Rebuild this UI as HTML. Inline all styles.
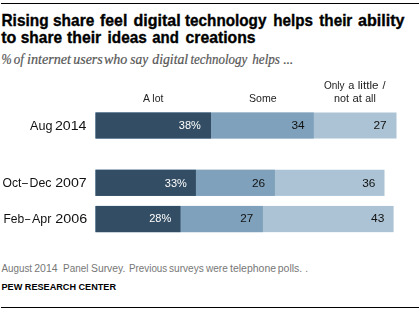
<!DOCTYPE html>
<html><head><meta charset="utf-8">
<style>
html,body{margin:0;padding:0;background:#fff;width:420px;height:310px;overflow:hidden}
svg{display:block}
.t{font-family:"Liberation Sans",sans-serif;font-weight:700;font-size:16.5px;fill:#000;stroke:#000;stroke-width:0.35px}
.sub{font-family:"Liberation Serif",serif;font-style:italic;font-size:14px;fill:#555;stroke:#555;stroke-width:0.2px}
.hd{font-family:"Liberation Sans",sans-serif;font-size:11px;fill:#222}
.rl{font-family:"Liberation Sans",sans-serif;font-size:13.5px;fill:#111}
.vw{font-family:"Liberation Sans",sans-serif;font-size:11px;fill:#fff}
.vd{font-family:"Liberation Sans",sans-serif;font-size:11px;fill:#111}
.ft{font-family:"Liberation Sans",sans-serif;font-size:10px;fill:#777}
.pw{font-family:"Liberation Sans",sans-serif;font-size:9.5px;font-weight:700;fill:#000}
</style></head>
<body>
<svg width="420" height="310" viewBox="0 0 420 310">
<filter id="ga" x="0" y="0" width="420" height="310" filterUnits="userSpaceOnUse"><feColorMatrix type="identity"/></filter>
<rect x="1" y="3" width="418" height="1" fill="#000"/>
<g class="t"><text x="1.5" y="25.5" textLength="47.04" lengthAdjust="spacingAndGlyphs">Rising</text><text x="53.0" y="25.5" textLength="41.25" lengthAdjust="spacingAndGlyphs">share</text><text x="100.0" y="25.5" textLength="27.28" lengthAdjust="spacingAndGlyphs">feel</text><text x="133.5" y="25.5" textLength="47.21" lengthAdjust="spacingAndGlyphs">digital</text><text x="185.0" y="25.5" textLength="81.44" lengthAdjust="spacingAndGlyphs">technology</text><text x="273.25" y="25.5" textLength="39.7" lengthAdjust="spacingAndGlyphs">helps</text><text x="319.25" y="25.5" textLength="33.07" lengthAdjust="spacingAndGlyphs">their</text><text x="358.0" y="25.5" textLength="46.48" lengthAdjust="spacingAndGlyphs">ability</text>
<text x="1.25" y="42.8" textLength="15.11" lengthAdjust="spacingAndGlyphs">to</text><text x="20.75" y="42.8" textLength="41.25" lengthAdjust="spacingAndGlyphs">share</text><text x="67.0" y="42.8" textLength="34.17" lengthAdjust="spacingAndGlyphs">their</text><text x="107.5" y="42.8" textLength="39.22" lengthAdjust="spacingAndGlyphs">ideas</text><text x="152.25" y="42.8" textLength="26.6" lengthAdjust="spacingAndGlyphs">and</text><text x="185.5" y="42.8" textLength="70.04" lengthAdjust="spacingAndGlyphs">creations</text></g>
<g class="sub"><text x="1.5" y="63.7" textLength="10.22" lengthAdjust="spacingAndGlyphs">%</text><text x="13.75" y="63.7" textLength="10.09" lengthAdjust="spacingAndGlyphs">of</text><text x="27.0" y="63.7" textLength="43.95" lengthAdjust="spacingAndGlyphs">internet</text><text x="73.25" y="63.7" textLength="29.41" lengthAdjust="spacingAndGlyphs">users</text><text x="104.0" y="63.7" textLength="23.34" lengthAdjust="spacingAndGlyphs">who</text><text x="130.25" y="63.7" textLength="17.82" lengthAdjust="spacingAndGlyphs">say</text><text x="152.25" y="63.7" textLength="35.91" lengthAdjust="spacingAndGlyphs">digital</text><text x="190.5" y="63.7" textLength="56.77" lengthAdjust="spacingAndGlyphs">technology</text><text x="252.25" y="63.7" textLength="27.71" lengthAdjust="spacingAndGlyphs">helps</text><text x="283.25" y="63.7" textLength="10.0">...</text></g>

<g class="hd" filter="url(#ga)"><text x="324.0" y="89.3" textLength="20.62" lengthAdjust="spacingAndGlyphs">Only</text><text x="348.3" y="89.3">a</text><text x="357.75" y="89.3" textLength="20.76" lengthAdjust="spacingAndGlyphs">little</text><text x="382.6" y="89.3">/</text>
<text x="334.0" y="101.7" textLength="15.0" lengthAdjust="spacingAndGlyphs">not</text><text x="352.5" y="101.7" textLength="9.44" lengthAdjust="spacingAndGlyphs">at</text><text x="365.25" y="101.7" textLength="10.57" lengthAdjust="spacingAndGlyphs">all</text><text x="143.0" y="101.7" textLength="20.36" lengthAdjust="spacingAndGlyphs">A lot</text><text x="249.0" y="101.7" textLength="27.65" lengthAdjust="spacingAndGlyphs">Some</text></g>

<g class="rl" filter="url(#ga)"><text x="30.0" y="129.7" textLength="22.38" lengthAdjust="spacingAndGlyphs">Aug</text><text x="55.0" y="129.7" textLength="31.5" lengthAdjust="spacingAndGlyphs">2014</text>
<text x="2.5" y="187.1" textLength="18.87" lengthAdjust="spacingAndGlyphs">Oct</text><text x="22.0" y="187.1" textLength="5.87" lengthAdjust="spacingAndGlyphs">–</text><text x="29.5" y="187.1" textLength="21.97" lengthAdjust="spacingAndGlyphs">Dec</text><text x="55.25" y="187.1" textLength="31.5" lengthAdjust="spacingAndGlyphs">2007</text>
<text x="3.5" y="222.8" textLength="20.77" lengthAdjust="spacingAndGlyphs">Feb</text><text x="25.0" y="222.8" textLength="5.27" lengthAdjust="spacingAndGlyphs">–</text><text x="32.0" y="222.8" textLength="19.42" lengthAdjust="spacingAndGlyphs">Apr</text><text x="55.25" y="222.8" textLength="31.9" lengthAdjust="spacingAndGlyphs">2006</text></g>

<g>
<rect x="95.5" y="112.5" width="301.00" height="26" fill="#abc3d4"/>
<rect x="95.5" y="112.5" width="218.30" height="26" fill="#7fa1bb"/>
<rect x="95.5" y="112.5" width="115.50" height="26" fill="#334d64"/>
<rect x="95.5" y="169.75" width="289.00" height="26.15" fill="#abc3d4"/>
<rect x="95.5" y="169.75" width="179.40" height="26.15" fill="#7fa1bb"/>
<rect x="95.5" y="169.75" width="100.40" height="26.15" fill="#334d64"/>
<rect x="95.5" y="205.95" width="298.10" height="26.2" fill="#abc3d4"/>
<rect x="95.5" y="205.95" width="167.40" height="26.2" fill="#7fa1bb"/>
<rect x="95.5" y="205.95" width="85.00" height="26.2" fill="#334d64"/>
</g>

<g filter="url(#ga)"><text class="vw" x="200.8" y="129" text-anchor="end">38%</text>
<text class="vd" x="304.6" y="129" text-anchor="end" textLength="13.2" lengthAdjust="spacingAndGlyphs">34</text>
<text class="vd" x="386.7" y="129" text-anchor="end" textLength="13.2" lengthAdjust="spacingAndGlyphs">27</text>
<text class="vw" x="186.8" y="186.9" text-anchor="end">33%</text>
<text class="vd" x="265.2" y="186.9" text-anchor="end" textLength="13.2" lengthAdjust="spacingAndGlyphs">26</text>
<text class="vd" x="375.4" y="186.9" text-anchor="end" textLength="13.2" lengthAdjust="spacingAndGlyphs">36</text>
<text class="vw" x="171.2" y="222.3" text-anchor="end">28%</text>
<text class="vd" x="253.2" y="222.3" text-anchor="end" textLength="13" lengthAdjust="spacingAndGlyphs">27</text>
<text class="vd" x="384.3" y="222.3" text-anchor="end" textLength="13.3" lengthAdjust="spacingAndGlyphs">43</text></g>

<g class="ft"><text x="1.5" y="271.8" textLength="30.54" lengthAdjust="spacingAndGlyphs">August</text><text x="34.25" y="271.8" textLength="23.3" lengthAdjust="spacingAndGlyphs">2014</text><text x="63.0" y="271.8" textLength="25.43" lengthAdjust="spacingAndGlyphs">Panel</text><text x="91.0" y="271.8" textLength="34.37" lengthAdjust="spacingAndGlyphs">Survey.</text><text x="129.0" y="271.8" textLength="38.26" lengthAdjust="spacingAndGlyphs">Previous</text><text x="169.0" y="271.8" textLength="34.8" lengthAdjust="spacingAndGlyphs">surveys</text><text x="206.0" y="271.8" textLength="21.84" lengthAdjust="spacingAndGlyphs">were</text><text x="230.0" y="271.8" textLength="46.04" lengthAdjust="spacingAndGlyphs">telephone</text><text x="277.75" y="271.8" textLength="24.51" lengthAdjust="spacingAndGlyphs">polls.</text><text x="305.2" y="271.8">.</text></g>
<text class="pw" x="1.5" y="289.7" textLength="114.5" lengthAdjust="spacingAndGlyphs">PEW RESEARCH CENTER</text>
<rect x="1" y="307" width="418" height="1" fill="#000"/>
</svg>
</body></html>
